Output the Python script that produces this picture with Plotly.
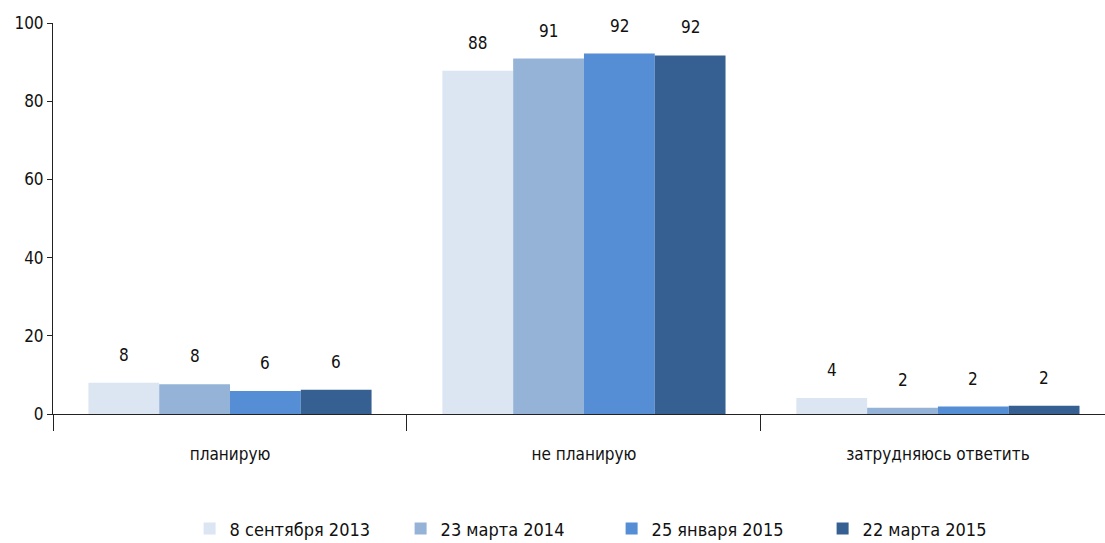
import plotly.graph_objects as go

categories = ["планирую", "не планирую", "затрудняюсь ответить"]
series_names = ["8 сентября 2013", "23 марта 2014", "25 января 2015", "22 марта 2015"]
s2013_09 = [8.0, 87.8, 4.1]
s2014_03 = [7.6, 90.9, 1.6]
s2015_01 = [5.9, 92.2, 1.9]
s2015_03 = [6.2, 91.7, 2.1]
series_values = [s2013_09, s2014_03, s2015_01, s2015_03]
colors = ["#DCE6F2", "#95B3D7", "#558ED5", "#376092"]

FONT = "DejaVu Sans Condensed, DejaVu Sans, sans-serif"

fig = go.Figure()
for name, vals, col in zip(series_names, series_values, colors):
    fig.add_trace(go.Bar(name=name, x=categories, y=vals, marker=dict(color=col, line=dict(width=0))))

n = len(series_names)
bargap = 0.2
w = (1 - bargap) / n
annotations = []
for j, vals in enumerate(series_values):
    for i, v in enumerate(vals):
        annotations.append(dict(
            x=i + (j - (n - 1) / 2) * w, y=v, xref="x", yref="y",
            text=f"{v:.0f}", showarrow=False, yanchor="bottom", yshift=16,
            font=dict(family=FONT, size=17, color="#111111")))

fig.update_layout(
    barmode="group", bargap=bargap, bargroupgap=0,
    width=1105, height=543,
    margin=dict(l=53, r=0, t=23, b=129),
    plot_bgcolor="white", paper_bgcolor="white",
    font=dict(family=FONT, size=17, color="#111111"),
    annotations=annotations,
    legend=dict(orientation="h", x=0.531, xanchor="center", yref="container", y=0.026, yanchor="middle",
                font=dict(family=FONT, size=18), entrywidth=166, traceorder="normal"),
    xaxis=dict(type="category", range=[-0.5, 2.472], showline=True, linecolor="#222222", linewidth=1,
               ticks="outside", tickson="boundaries", ticklen=16, tickcolor="#222222",
               ticklabelstandoff=25, tickfont=dict(family=FONT, size=17, color="#111111")),
    yaxis=dict(range=[0, 100], dtick=20, showgrid=False, zeroline=False, showline=True,
               linecolor="#222222", linewidth=1, ticks="outside", ticklen=5, tickcolor="#222222",
               tickfont=dict(family=FONT, size=17, color="#111111")),
)
fig.write_html("out.html", config={"displayModeBar": False},
               post_script="document.body.style.margin='0';document.body.style.padding='0';")
